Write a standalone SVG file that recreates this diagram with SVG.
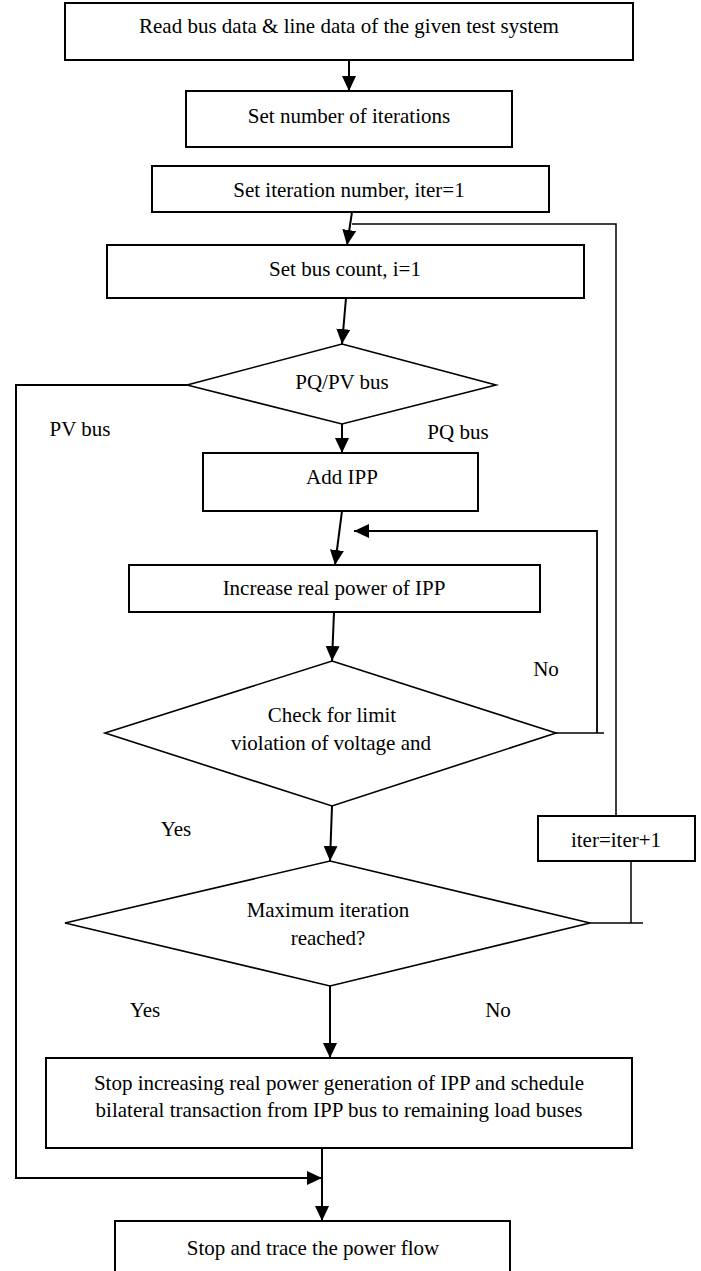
<svg xmlns="http://www.w3.org/2000/svg" width="701" height="1271" viewBox="0 0 701 1271">
<style>
.box{fill:#fff;stroke:#000;stroke-width:2}
.dia{fill:#fff;stroke:#000;stroke-width:1.6}
.t{font-family:'Liberation Serif','DejaVu Serif',serif;font-size:21px;fill:#000;text-anchor:middle}
.c{fill:none;stroke:#000;stroke-width:2}
.f{fill:none;stroke:#000;stroke-width:1.5}
</style>
<defs>
<marker id="ah" markerUnits="userSpaceOnUse" markerWidth="15" markerHeight="14" refX="15" refY="7" orient="auto">
<path d="M0,0 L15,7 L0,14 z" fill="#000"/>
</marker>
</defs>
<rect width="701" height="1271" fill="#fff"/>
<g id="connectors">
<line class="c" x1="349" y1="60" x2="349" y2="91" marker-end="url(#ah)"/>
<line class="c" x1="352" y1="212" x2="347" y2="245" marker-end="url(#ah)"/>
<line class="c" x1="346" y1="298" x2="342" y2="344" marker-end="url(#ah)"/>
<line class="c" x1="342" y1="424" x2="342" y2="453" marker-end="url(#ah)"/>
<line class="c" x1="342" y1="511" x2="335" y2="565" marker-end="url(#ah)"/>
<line class="c" x1="334" y1="612" x2="332" y2="661" marker-end="url(#ah)"/>
<line class="c" x1="332" y1="806" x2="330" y2="861" marker-end="url(#ah)"/>
<line class="c" x1="330" y1="986" x2="330" y2="1058" marker-end="url(#ah)"/>
<line class="c" x1="322" y1="1148" x2="322" y2="1221" marker-end="url(#ah)"/>
<polyline class="c" points="187,385 16,385 16,1178 322,1178" marker-end="url(#ah)"/>
<polyline class="f" points="556,733 604,733"/>
<polyline class="c" points="597,733 597,531 354,531" marker-end="url(#ah)" style="stroke-width:1.8"/>
<polyline class="f" points="589,923 643,923"/>
<polyline class="f" points="631,923 631,861"/>
<polyline class="f" points="616,816 616,224 352,224"/>
</g>
<g id="n1"><rect class="box" x="65" y="3" width="568" height="57"/><text class="t" x="349" y="33">Read bus data &amp; line data of the given test system</text></g>
<g id="n2"><rect class="box" x="186" y="91" width="326" height="56"/><text class="t" x="349" y="123">Set number of iterations</text></g>
<g id="n3"><rect class="box" x="152" y="166" width="397" height="46"/><text class="t" x="349" y="197">Set iteration number, iter=1</text></g>
<g id="n4"><rect class="box" x="107" y="245" width="477" height="53"/><text class="t" x="345" y="276">Set bus count, i=1</text></g>
<g id="n5"><polygon class="dia" points="342,344 496,385 342,424 187,385"/><text class="t" x="342" y="389">PQ/PV bus</text></g>
<g id="n6"><rect class="box" x="203" y="453" width="275" height="58"/><text class="t" x="342" y="484">Add IPP</text></g>
<g id="n7"><rect class="box" x="129" y="565" width="411" height="47"/><text class="t" x="334" y="595">Increase real power of IPP</text></g>
<g id="n8"><polygon class="dia" points="332,661 556,733 332,806 105,733"/><text class="t" x="332" y="722">Check for limit</text><text class="t" x="331" y="750">violation of voltage and</text></g>
<g id="n9"><rect class="box" x="538" y="816" width="157" height="45"/><text class="t" x="616" y="847">iter=iter+1</text></g>
<g id="n10"><polygon class="dia" points="330,861 590,923 330,986 65,923"/><text class="t" x="328" y="917">Maximum iteration</text><text class="t" x="328" y="945">reached?</text></g>
<g id="n11"><rect class="box" x="46" y="1058" width="586" height="90"/><text class="t" x="339" y="1090">Stop increasing real power generation of IPP and schedule</text><text class="t" x="339" y="1117">bilateral transaction from IPP bus to remaining load buses</text></g>
<g id="n12"><rect class="box" x="115" y="1221" width="395" height="60"/><text class="t" x="313" y="1255">Stop and trace the power flow</text></g>
<g id="labels">
<text class="t" x="80" y="436">PV bus</text>
<text class="t" x="458" y="439">PQ bus</text>
<text class="t" x="546" y="676">No</text>
<text class="t" x="176" y="836">Yes</text>
<text class="t" x="145" y="1017">Yes</text>
<text class="t" x="498" y="1017">No</text>
</g>
</svg>
